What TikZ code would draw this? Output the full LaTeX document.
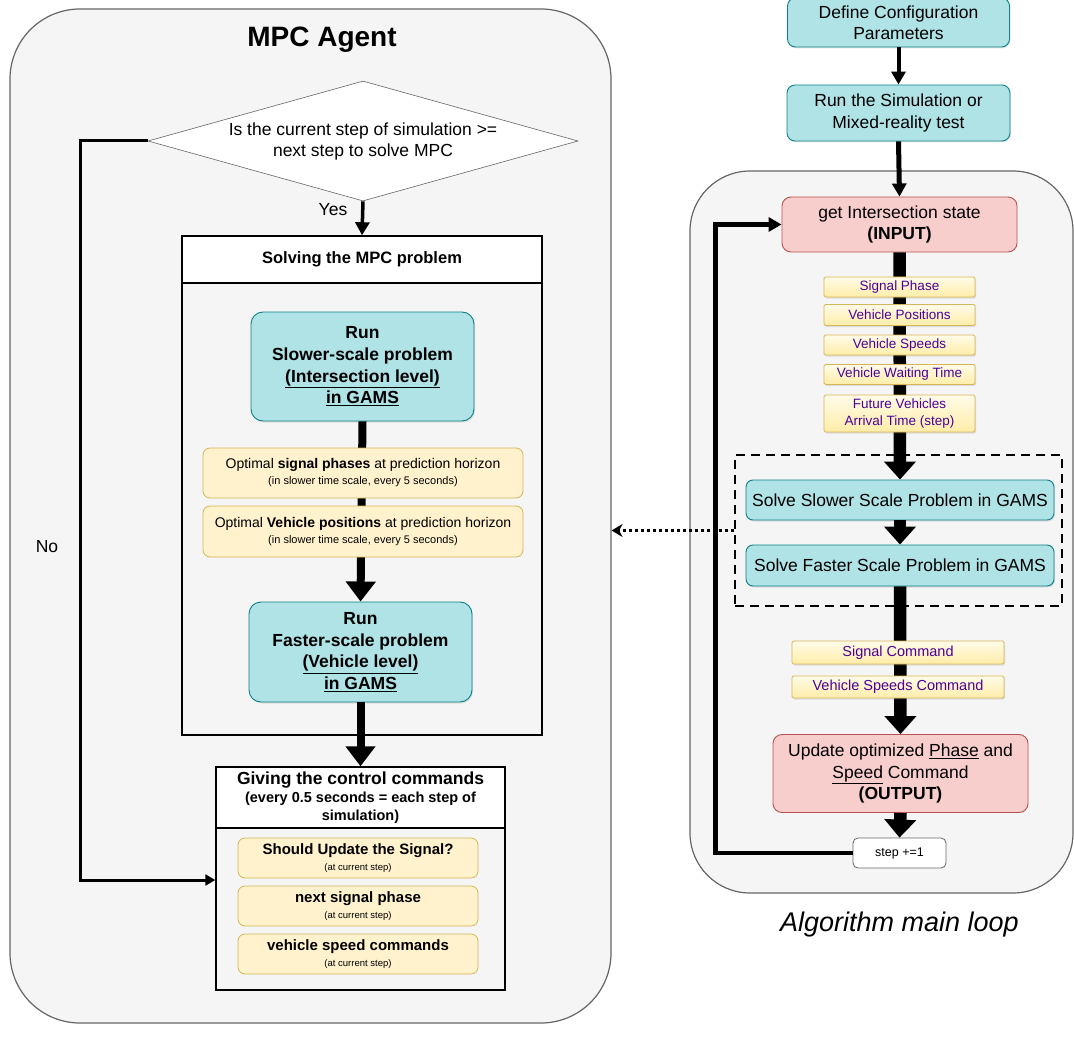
\documentclass[tikz,border=0pt]{standalone}
\usepackage{fontspec}
\setmainfont{Liberation Sans}
\usetikzlibrary{arrows.meta,shapes.geometric,shadows,positioning}

\definecolor{panelgray}{HTML}{F5F5F5}
\definecolor{panelline}{HTML}{666666}
\definecolor{tealfill}{HTML}{B0E3E6}
\definecolor{tealline}{HTML}{0E8088}
\definecolor{pinkfill}{HTML}{F8CECC}
\definecolor{pinkline}{HTML}{B85450}
\definecolor{notefill}{HTML}{FFF2CC}
\definecolor{noteline}{HTML}{D6B656}
\definecolor{chiptop}{HTML}{FFFBE8}
\definecolor{chipbot}{HTML}{FFEDA8}
\definecolor{chiptext}{HTML}{4C0099}

\newcommand{\pxfont}[2]{\fontsize{#1}{#2}\selectfont}

\tikzset{
  panel/.style={draw=panelline, fill=panelgray, line width=1.2pt, rounded corners=#1},
  softshadow/.style={drop shadow={opacity=0.2, shadow xshift=1pt, shadow yshift=-1.5pt}},
  tealbox/.style={draw=tealline, fill=tealfill, line width=0.9pt, rounded corners=#1, align=center, softshadow},
  pinkbox/.style={draw=pinkline, fill=pinkfill, line width=0.9pt, rounded corners=9pt, align=center, font=\pxfont{17.5}{21.5}},
  notebox/.style={draw=noteline, fill=notefill, line width=0.8pt, rounded corners=7pt, align=center, inner sep=1pt},
  chip/.style={draw=noteline, top color=chiptop, bottom color=chipbot, line width=0.8pt, rounded corners=1.5pt, text=chiptext, font=\pxfont{13.5}{17}, minimum width=151pt, inner sep=1pt, align=center, softshadow},
  headbox/.style={draw, fill=white, line width=1.5pt, align=center, inner sep=1pt},
  bodybox/.style={draw, fill=panelgray, line width=1.5pt},
  fatarrow/.style={line width=12.5pt, -{Triangle[width=31pt,length=18pt]}},
  midarrow/.style={line width=8pt, -{Triangle[width=29pt,length=20pt]}},
  thinarrow/.style={line width=#1, -{Triangle[width=14pt,length=13pt]}}
}

\begin{document}
\begin{tikzpicture}[x=1pt, y=-1pt]
\useasboundingbox (0,0) rectangle (1074,1051);

% the two panels
\node[panel=70pt, minimum width=601pt, minimum height=1014pt] (agent) at (310.5,516) {};
\node[font=\bfseries\pxfont{28}{32}] (agenttitle) at (322,40) {MPC Agent};
\node[panel=60pt, minimum width=383pt, minimum height=722pt] (mainloop) at (881.5,532) {};
\node[font=\itshape\pxfont{27}{32}] (looptitle) at (899.5,925) {Algorithm main loop};

% MPC agent
\node[diamond, draw=panelline, fill=white, line width=0.6pt, aspect=3.58, minimum width=430pt, minimum height=120pt, inner sep=0pt, align=center, font=\pxfont{17.5}{21}] (check) at (363,141) {Is the current step of simulation >=\\next step to solve MPC};
\node[font=\pxfont{17.5}{21}] (yeslabel) at (333,210) {Yes};
\node[font=\pxfont{17.5}{21}] (nolabel) at (47,547) {No};

\node[headbox, minimum width=360pt, minimum height=47pt, font=\bfseries\pxfont{16.5}{20}] (solvehead) at (362,259.5) {Solving the MPC problem};
\node[bodybox, minimum width=360pt, minimum height=452pt] (solvebody) at (362,509) {};
\node[tealbox=12pt, minimum width=223pt, minimum height=109pt, font=\bfseries\pxfont{17.5}{21.7}] (slow) at (362.5,366.5) {Run\\Slower-scale problem\\\underline{(Intersection level)}\\\underline{in GAMS}};
\node[tealbox=12pt, minimum width=223pt, minimum height=100pt, font=\bfseries\pxfont{17.5}{21.5}] (fast) at (360.5,652) {Run\\Faster-scale problem\\\underline{(Vehicle level)}\\\underline{in GAMS}};

\node[headbox, minimum width=289pt, minimum height=61pt, font=\bfseries\pxfont{17.5}{18}] (givehead) at (360.5,797.5) {Giving the control commands\\\pxfont{14.5}{17}(every 0.5 seconds = each step of\\\pxfont{14.5}{17}simulation)};
\node[bodybox, minimum width=289pt, minimum height=162pt] (givebody) at (360.5,909) {};

% main loop
\node[tealbox=8pt, minimum width=222pt, minimum height=49pt, font=\pxfont{17.5}{21}] (config) at (898.5,22.5) {Define Configuration\\Parameters};
\node[tealbox=8pt, minimum width=223pt, minimum height=56pt, font=\pxfont{17.5}{22}] (runsim) at (898.5,113) {Run the Simulation or\\Mixed-reality test};
\node[pinkbox, minimum width=235pt, minimum height=55pt] (getstate) at (899.5,224.5) {get Intersection state\\\textbf{(INPUT)}};
\node[draw, dash pattern=on 9pt off 6pt, line width=1.1pt, minimum width=327pt, minimum height=151pt] (gams) at (898.5,530.5) {};
\node[tealbox=7pt, minimum width=308pt, minimum height=40pt, font=\pxfont{17.5}{21}] (slowgams) at (900,500) {Solve Slower Scale Problem in GAMS};
\node[tealbox=7pt, minimum width=308pt, minimum height=41pt, font=\pxfont{17.5}{21}] (fastgams) at (900,565.5) {Solve Faster Scale Problem in GAMS};
\node[pinkbox, minimum width=255pt, minimum height=78pt] (update) at (900.5,773.5) {Update optimized \underline{Phase} and\\\underline{Speed} Command\\\textbf{(OUTPUT)}};
\node[draw=panelline, fill=white, line width=0.8pt, rounded corners=5pt, minimum width=93pt, minimum height=30pt, font=\pxfont{12.5}{15}] (stepinc) at (899.5,853) {step +=1};

% connectors
\draw[thinarrow=3.5pt] (check.south) -- (solvehead.north);
\draw[midarrow] (slow.south) -- (fast.north);
\draw[midarrow] (fast.south) -- (givehead.north);
\draw[line width=3pt, -{Triangle[width=11pt,length=10pt]}] (check.west) -- ++(-67,0) |- ([yshift=29pt]givebody.west); % No branch

\draw[thinarrow=4pt] (config.south) -- (runsim.north);
\draw[thinarrow=5pt] (runsim.south) -- (getstate.north);
\draw[fatarrow] (getstate.south) -- (slowgams.north);
\draw[fatarrow] (slowgams.south) -- (fastgams.north);
\draw[fatarrow] (fastgams.south) -- (update.north);
\draw[fatarrow] (update.south) -- (stepinc.north);
\draw[thinarrow=4.5pt] (stepinc.west) -- ++(-137,0) |- (getstate.west); % loop back
\draw[line width=3pt, dash pattern=on 3pt off 3pt, -{Stealth[width=13pt,length=11pt]}] (gams.west) -- (gams.west -| agent.east);

% notes on top of the arrows
\node[notebox, minimum width=320pt, minimum height=50pt, font=\pxfont{14}{16}] (optphase) at (363,473) {Optimal \textbf{signal phases} at prediction horizon\\\pxfont{11}{14}(in slower time scale, every 5 seconds)};
\node[notebox, minimum width=320pt, minimum height=51pt, font=\pxfont{14}{16}] (optpos) at (363,531.5) {Optimal \textbf{Vehicle positions} at prediction horizon\\\pxfont{11}{14}(in slower time scale, every 5 seconds)};

\node[notebox, minimum width=240pt, minimum height=40pt, font=\bfseries\pxfont{15}{16}] (upsig) at (358,858) {Should Update the Signal?\\\mdseries\pxfont{9.5}{12}(at current step)};
\node[notebox, minimum width=240pt, minimum height=40pt, font=\bfseries\pxfont{15}{16}] (nextphase) at (358,906) {next signal phase\\\mdseries\pxfont{9.5}{12}(at current step)};
\node[notebox, minimum width=240pt, minimum height=40pt, font=\bfseries\pxfont{15}{16}] (speedcmd) at (358,954) {vehicle speed commands\\\mdseries\pxfont{9.5}{12}(at current step)};

\node[chip, minimum height=20pt] (sigphase) at (899.5,287) {Signal Phase};
\node[chip, minimum height=21pt] (vehpos) at (899.5,315) {Vehicle Positions};
\node[chip, minimum height=20pt] (vehspd) at (899.5,345) {Vehicle Speeds};
\node[chip, minimum height=20pt] (vehwait) at (899.5,374.5) {Vehicle Waiting Time};
\node[chip, minimum height=37pt] (arrival) at (899.5,413.5) {Future Vehicles\\Arrival Time (step)};
\node[chip, minimum width=212pt, minimum height=23pt, font=\pxfont{14.5}{17}] (sigcmd) at (898,652.5) {Signal Command};
\node[chip, minimum width=212pt, minimum height=22pt, font=\pxfont{14.5}{17}] (spdcmd) at (898,687) {Vehicle Speeds Command};
\end{tikzpicture}
\end{document}
